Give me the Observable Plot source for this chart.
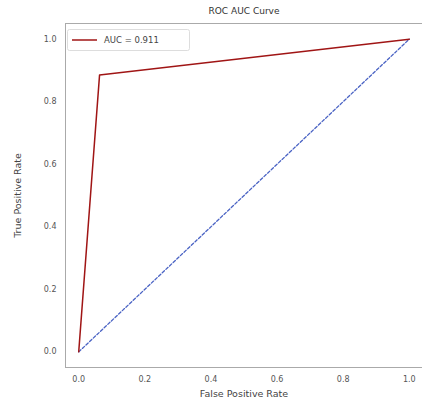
<!DOCTYPE html>
<html>
<head>
<meta charset="utf-8">
<script src="https://cdn.jsdelivr.net/npm/d3@7"></script>
<script src="https://cdn.jsdelivr.net/npm/@observablehq/plot@0.6"></script>
<style>
  body { margin: 0; background: #fff; }
  svg { display: block; }
</style>
</head>
<body>
<div id="chart"></div>
<script>
const chartTitle = "ROC AUC Curve";
const xLabel = "False Positive Rate";
const yLabel = "True Positive Rate";
const legendLabel = "AUC = 0.911";
const fpr = [0, 0.063, 1];
const tpr = [0, 0.885, 1];
const diagX = [0, 1];
const diagY = [0, 1];
const xTicks = [0, 0.2, 0.4, 0.6, 0.8, 1.0];
const yTicks = [0, 0.2, 0.4, 0.6, 0.8, 1.0];

const roc = fpr.map((f, i) => ({x: f, y: tpr[i]}));
const diag = diagX.map((d, i) => ({x: d, y: diagY[i]}));

const W = 422, H = 419;
const ML = 65, MR = 0, MT = 23, MB = 52;

const plot = Plot.plot({
  width: W,
  height: H,
  marginLeft: ML,
  marginRight: MR,
  marginTop: MT,
  marginBottom: MB,
  style: {fontFamily: "DejaVu Sans, sans-serif", fontSize: "8px", color: "#555", background: "#fff"},
  x: {domain: [-0.04, 1.04]},
  y: {domain: [-0.05, 1.05]},
  marks: [
    Plot.frame({stroke: "#aaa", strokeWidth: 1}),
    Plot.axisX({ticks: xTicks, tickSize: 0, tickPadding: 9, tickFormat: d3.format(".1f"), label: null, fill: "#555"}),
    Plot.axisY({ticks: yTicks, tickSize: 0, tickPadding: 9, tickFormat: d3.format(".1f"), label: null, fill: "#555"}),
    Plot.line(diag, {x: "x", y: "y", stroke: "#4a63c4", strokeWidth: 1.3, strokeDasharray: "3,2"}),
    Plot.line(roc, {x: "x", y: "y", stroke: "#a01515", strokeWidth: 1.5}),
    Plot.text([chartTitle], {frameAnchor: "top", dy: -12, textAnchor: "middle", lineAnchor: "middle", fontSize: 9, fill: "#333"}),
    Plot.text([xLabel], {frameAnchor: "bottom", dy: 26, textAnchor: "middle", lineAnchor: "middle", fontSize: 9.5, fill: "#444"}),
    Plot.text([yLabel], {frameAnchor: "left", dx: -48, rotate: -90, textAnchor: "middle", lineAnchor: "middle", fontSize: 9.5, fill: "#444"})
  ]
});

// legend
const svg = d3.select(plot);
const lg = svg.append("g");
lg.append("rect").attr("x", 67.5).attr("y", 29.5).attr("width", 122).attr("height", 21)
  .attr("rx", 2).attr("fill", "#fff").attr("stroke", "#ddd");
lg.append("line").attr("x1", 72).attr("x2", 97).attr("y1", 40).attr("y2", 40)
  .attr("stroke", "#a01515").attr("stroke-width", 1.5);
lg.append("text").attr("x", 104).attr("y", 40).attr("dy", "0.35em")
  .attr("text-anchor", "start")
  .attr("font-size", 8.5).attr("fill", "#444").text(legendLabel);

document.getElementById("chart").appendChild(plot);
</script>
</body>
</html>
